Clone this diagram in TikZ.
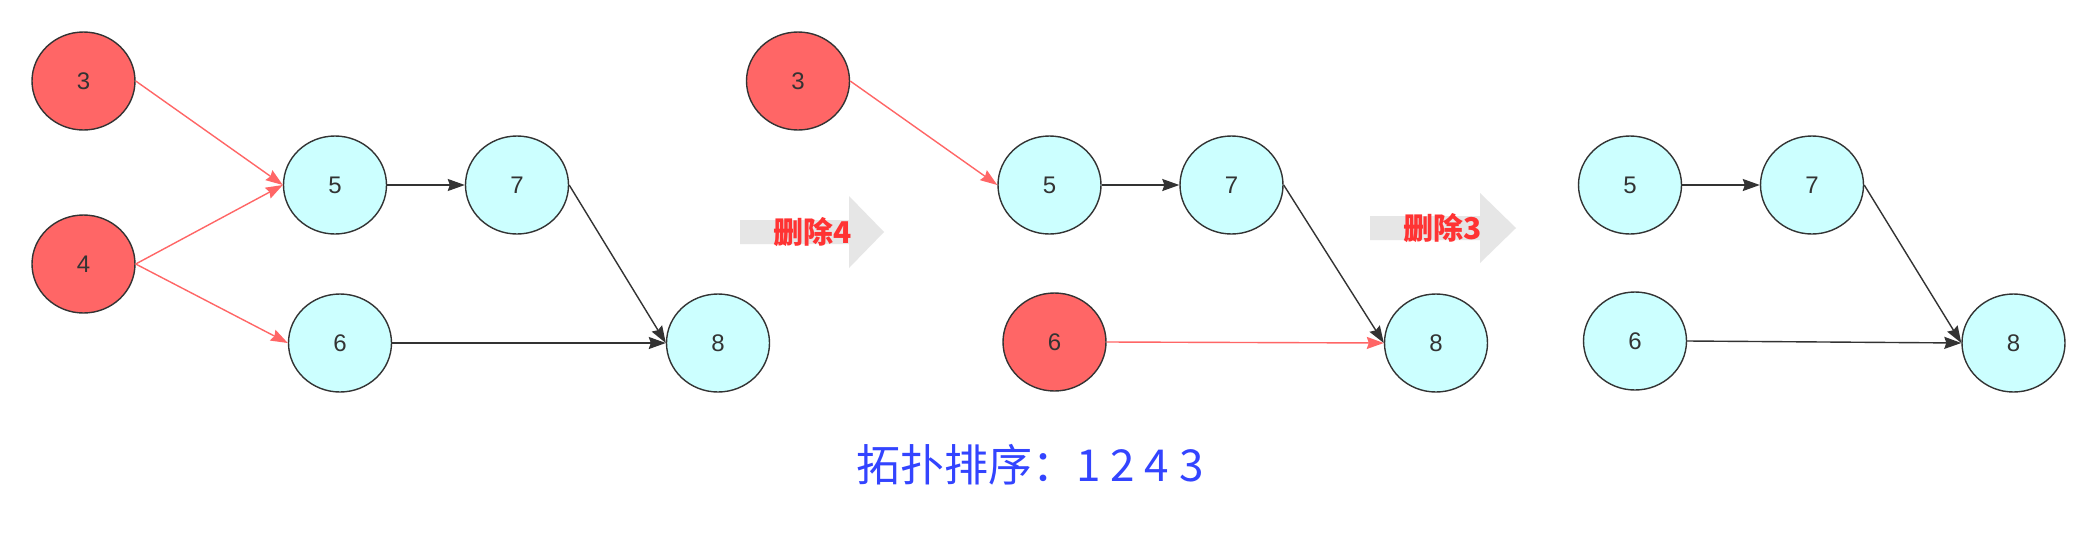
\documentclass[tikz,border=0pt]{standalone}
\usepackage{fontspec}
\setmainfont{Liberation Sans}
\newfontfamily\cjk{Noto Sans CJK SC}
\usetikzlibrary{arrows.meta,shapes.geometric}
\definecolor{nred}{HTML}{FF6666}
\definecolor{ncyan}{HTML}{CCFFFF}
\definecolor{nstroke}{HTML}{333333}
\definecolor{ered}{HTML}{FF6666}
\definecolor{tred}{HTML}{FF3333}
\definecolor{agrey}{HTML}{E6E6E6}
\definecolor{tblue}{HTML}{3344FF}
\tikzset{
  gnode/.style={ellipse, draw=nstroke, line width=1.4pt, minimum width=103pt, minimum height=98pt, inner sep=0pt, text=nstroke, font=\fontsize{24}{27}\selectfont},
  rnode/.style={gnode, fill=nred},
  cnode/.style={gnode, fill=ncyan},
  bedge/.style={draw=nstroke, line width=1.4pt, -{Stealth[length=17pt,width=12pt,inset=2pt]}},
  redge/.style={draw=ered, line width=1.4pt, -{Stealth[length=17pt,width=12pt,inset=2pt]}},
  steplabel/.style={text=tred, font=\cjk\bfseries\fontsize{30}{34}\selectfont, inner sep=0pt},
  bigarrow/.style={fill=agrey, draw=none}
}
\begin{document}
\begin{tikzpicture}[x=1pt,y=-1pt]
\useasboundingbox[fill=white] (0,0) rectangle (2078,536);
% panel 1
\node[rnode] (a3) at (83.5,81) {3};
\node[rnode] (a4) at (83.5,264) {4};
\node[cnode] (a5) at (335,185) {5};
\node[cnode] (a7) at (517,185) {7};
\node[cnode] (a6) at (340,343) {6};
\node[cnode] (a8) at (718,343) {8};
\draw[redge] (a3.east) -- (a5.west);
\draw[redge] (a4.east) -- (a5.west);
\draw[redge] (a4.east) -- (a6.west);
\draw[bedge] (a5.east) -- (a7.west);
\draw[bedge] (a7.east) -- (a8.west);
\draw[bedge] (a6.east) -- (a8.west);
% arrow 1
\fill[bigarrow] (740,220) -- (849,220) -- (849,196) -- (884,232) -- (849,268) -- (849,244) -- (740,244) -- cycle;
\node[steplabel] (s1) at (813,232) {删除4};
% panel 2
\node[rnode] (b3) at (798,81) {3};
\node[cnode] (b5) at (1049.5,185) {5};
\node[cnode] (b7) at (1231.5,185) {7};
\node[rnode] (b6) at (1054.5,342) {6};
\node[cnode] (b8) at (1436,343) {8};
\draw[redge] (b3.east) -- (b5.west);
\draw[bedge] (b5.east) -- (b7.west);
\draw[bedge] (b7.east) -- (b8.west);
\draw[redge] (b6.east) -- (b8.west);
% arrow 2
\fill[bigarrow] (1370,216) -- (1480,216) -- (1480,193) -- (1516,228) -- (1480,263) -- (1480,240) -- (1370,240) -- cycle;
\node[steplabel] (s2) at (1443,228) {删除3};
% panel 3
\node[cnode] (c5) at (1630,185) {5};
\node[cnode] (c7) at (1812,185) {7};
\node[cnode] (c6) at (1635,341) {6};
\node[cnode] (c8) at (2013.5,343) {8};
\draw[bedge] (c5.east) -- (c7.west);
\draw[bedge] (c7.east) -- (c8.west);
\draw[bedge] (c6.east) -- (c8.west);
% caption
\node[anchor=west, text=tblue, font=\cjk\fontsize{44}{48}\selectfont, inner sep=0pt] (cap) at (856,465) {拓扑排序：1 2 4 3};
\end{tikzpicture}
\end{document}
